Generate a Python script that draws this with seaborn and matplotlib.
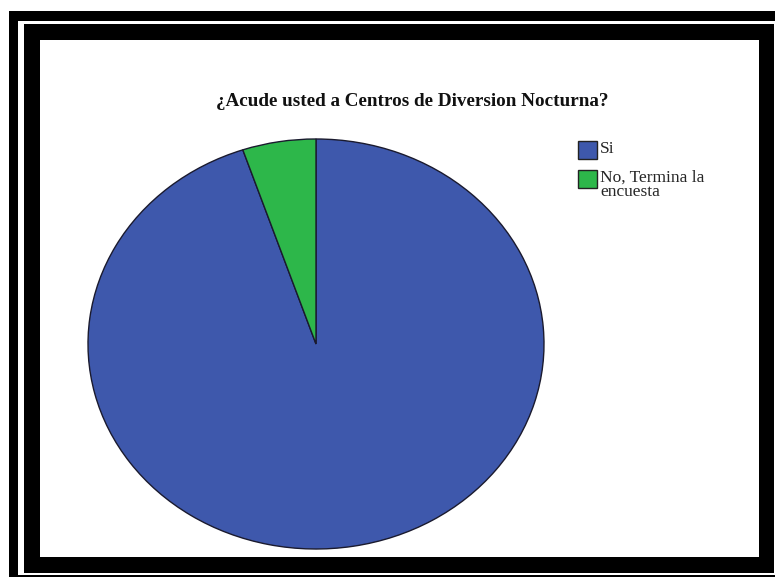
import matplotlib
matplotlib.use("Agg")
import matplotlib.pyplot as plt
from matplotlib.patches import Rectangle
import seaborn as sns

# survey answers (percent of respondents)
labels = ["Si", "No, Termina la\nencuesta"]
values = [94.8, 5.2]
colors = sns.color_palette(["#3e58ac", "#2db74a"])

sns.set_theme(style="white")
plt.rcParams["font.family"] = ["Liberation Serif", "DejaVu Serif"]

W, H = 775, 578
fig = plt.figure(figsize=(W / 100, H / 100), dpi=100, facecolor="white")


def box(x0, y0, x1, y1, color):
    # pixel coords, origin top-left
    fig.add_artist(Rectangle((x0 / W, 1 - y1 / H), (x1 - x0) / W, (y1 - y0) / H,
                             transform=fig.transFigure, facecolor=color,
                             edgecolor="none", zorder=0))


# picture frame
box(9, 11, 775, 577, "black")
box(18, 21, 775, 575, "white")
box(24, 24, 774, 573, "black")
box(40, 40, 759, 557, "white")

# pie (drawn as an ellipse like the original)
cx0, cx1, cy0, cy1 = 88, 544, 139, 549
ax = fig.add_axes([cx0 / W, 1 - cy1 / H, (cx1 - cx0) / W, (cy1 - cy0) / H])
wedges, _ = ax.pie(values, colors=colors, startangle=90, counterclock=False,
                   wedgeprops=dict(edgecolor="#1a1a2e", linewidth=1.0))
ax.set_aspect("auto")
ax.set_xlim(-1.0, 1.0)
ax.set_ylim(-1.0, 1.0)
ax.axis("off")

fig.text(412 / W, 1 - 101 / H, "¿Acude usted a Centros de Diversion Nocturna?",
         ha="center", va="center", fontsize=13.8, fontweight="bold", color="#111111")

leg = fig.legend(wedges, labels, loc="upper left", bbox_to_anchor=(578 / W, 1 - 141 / H),
                 frameon=False, fontsize=12.5, handlelength=1.1, handleheight=1.25,
                 handletextpad=0.17, labelspacing=0.6, borderpad=0, borderaxespad=0)
for t in leg.get_texts():
    t.set_linespacing(0.85)
for h in leg.legend_handles:
    h.set_edgecolor("#222222")
    h.set_linewidth(1.0)
# keep each square level with the first line of its label
for col in leg._legend_handle_box.get_children():
    for row in col.get_children():
        row.align = "top"

fig.savefig("out.png", dpi=100, facecolor="white")
